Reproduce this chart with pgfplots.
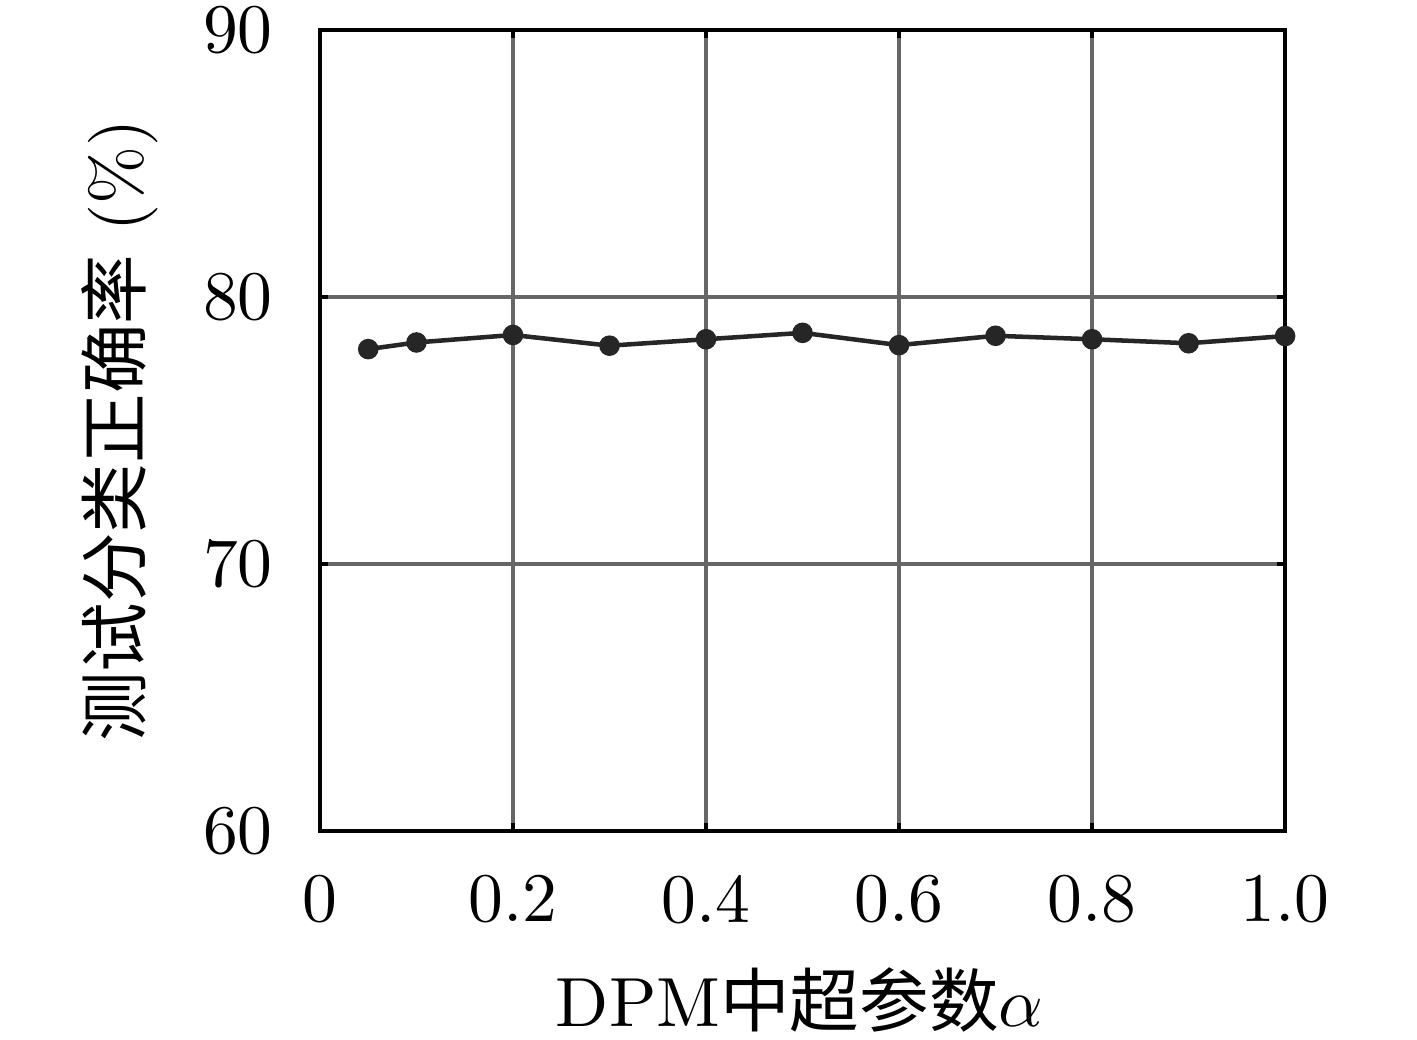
\documentclass[border=0pt]{standalone}
\usepackage{pgfplots}
\pgfplotsset{compat=1.18}
\usepackage{fontspec}
\newfontfamily\cjk{Noto Sans CJK SC}
\definecolor{gridgray}{HTML}{666666}
\definecolor{linedark}{HTML}{262626}

\begin{document}
\begin{tikzpicture}
\begin{axis}[
    scale only axis,
    width=4.874cm,
    height=4.045cm,
    xmin=0, xmax=1,
    ymin=60, ymax=90,
    xtick={0,0.2,0.4,0.6,0.8,1.0},
    xticklabels={0,0.2,0.4,0.6,0.8,1.0},
    ytick={60,70,80,90},
    grid=major,
    major grid style={gridgray,line width=0.55pt},
    axis line style={black,line width=0.65pt},
    tick style={black,line width=0.55pt},
    major tick length=0.04cm,
    tick align=inside,
    xtick pos=both, ytick pos=both,
    yticklabel style={xshift=-0.115cm},
    xticklabel style={yshift=-0.1cm},
    xlabel={DPM{\cjk 中超参数}$\alpha$},
    ylabel={{\cjk 测试分类正确率} (\%)},
    every axis x label/.style={at={(axis description cs:0.497,-0.211)},anchor=center},
    every axis y label/.style={at={(axis description cs:-0.207,0.5)},anchor=center,rotate=90},
]
\addplot[color=linedark,line width=0.65pt,mark=*,mark size=1.15pt,mark options={fill=linedark,draw=linedark}]
coordinates {
(0.05,78.05) (0.1,78.30) (0.2,78.58) (0.3,78.18) (0.4,78.42) (0.5,78.66)
(0.6,78.20) (0.7,78.55) (0.8,78.42) (0.9,78.27) (1.0,78.54)
};
\end{axis}
\pgfresetboundingbox
\useasboundingbox (-1.616,-1.051) rectangle (5.540,4.197);
\end{tikzpicture}
\end{document}
